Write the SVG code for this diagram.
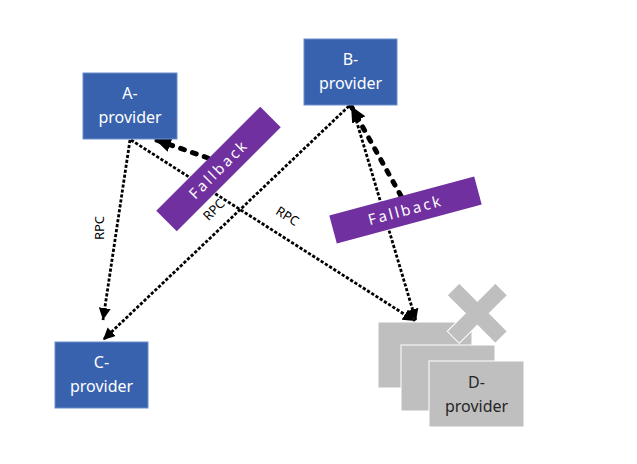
<svg xmlns="http://www.w3.org/2000/svg" width="637" height="464" viewBox="0 0 637 464">
<style>
.node{fill:#3862AE;stroke:#6A8DCB;stroke-width:1}
.ghost{fill:#BFBFBF;stroke:#FFFFFF;stroke-width:1}
.nt{font-family:"Noto Sans","DejaVu Sans",sans-serif;font-size:16px;fill:#FFFFFF;text-anchor:middle}
.dt{font-family:"Noto Sans","DejaVu Sans",sans-serif;font-size:16px;fill:#262626;text-anchor:middle}
.rpc{fill:none;stroke:#000;stroke-width:2.8;stroke-dasharray:3.2 1.8}
.fb{fill:none;stroke:#000;stroke-width:5;stroke-dasharray:4 8.5;stroke-linecap:round}
.lbl{font-family:"Noto Sans","DejaVu Sans",sans-serif;font-size:13px;fill:#000;text-anchor:middle}
.fbox{fill:#7030A0}
.ft{font-family:"Noto Sans","DejaVu Sans",sans-serif;font-size:15px;fill:#FFFFFF;text-anchor:middle;letter-spacing:2.5px}
</style>
<defs>
<marker id="ah" markerUnits="userSpaceOnUse" markerWidth="13" markerHeight="12" refX="12" refY="6" orient="auto">
<path d="M0,0 L12,6 L0,12 Z" fill="#000"/>
</marker>
<marker id="ahb" markerUnits="userSpaceOnUse" markerWidth="17" markerHeight="15" refX="16" refY="7.5" orient="auto">
<path d="M0,0 L16,7.5 L0,15 Z" fill="#000"/>
</marker>
</defs>
<g id="connectors">
<line class="rpc" x1="130" y1="140" x2="103" y2="320" marker-end="url(#ah)"/>
<line class="rpc" x1="349" y1="106" x2="103" y2="340" marker-end="url(#ah)"/>
<line class="rpc" x1="131" y1="140" x2="415" y2="321" marker-end="url(#ah)"/>
<line class="rpc" x1="352" y1="106" x2="416" y2="321" marker-end="url(#ah)"/>
<line class="fb" x1="208" y1="158" x2="155" y2="139.5" marker-end="url(#ahb)"/>
<line class="fb" x1="401" y1="196" x2="351" y2="106" marker-end="url(#ahb)"/>
<text class="lbl" transform="translate(104,228) rotate(-90)">RPC</text>
<text class="lbl" transform="translate(217,213) rotate(-45)">RPC</text>
<text class="lbl" transform="translate(285,220) rotate(32)">RPC</text>
</g>
<g id="fallback-a">
<rect class="fbox" x="-73.5" y="-14.5" width="147" height="29" transform="translate(218.5,169) rotate(-45)"/>
<text class="ft" transform="translate(218.5,169) rotate(-45)" y="5.5">Fallback</text>
</g>
<g id="fallback-b">
<rect class="fbox" x="-75" y="-14.5" width="150" height="29" transform="translate(405.5,210) rotate(-15)"/>
<text class="ft" transform="translate(405.5,210) rotate(-15)" y="5.5">Fallback</text>
</g>
<g id="A-provider">
<rect class="node" x="83" y="73" width="94" height="66"/>
<text class="nt" x="130" y="99">A-</text>
<text class="nt" x="130" y="123">provider</text>
</g>
<g id="B-provider">
<rect class="node" x="304" y="39" width="93" height="66"/>
<text class="nt" x="350.5" y="65">B-</text>
<text class="nt" x="350.5" y="89">provider</text>
</g>
<g id="C-provider">
<rect class="node" x="55" y="342" width="93" height="66"/>
<text class="nt" x="101.5" y="368">C-</text>
<text class="nt" x="101.5" y="392">provider</text>
</g>
<g id="D-provider">
<rect class="ghost" x="378" y="322" width="94" height="66"/>
<path class="ghost" transform="translate(477.3,313.3) rotate(45)" d="M8.5,-34 L8.5,-8.5 L34,-8.5 L34,8.5 L8.5,8.5 L8.5,34 L-8.5,34 L-8.5,8.5 L-34,8.5 L-34,-8.5 L-8.5,-8.5 L-8.5,-34 Z"/>
<rect class="ghost" x="401" y="345" width="94" height="66"/>
<rect class="ghost" x="429" y="361" width="95" height="66"/>
<text class="dt" x="476.5" y="388">D-</text>
<text class="dt" x="476.5" y="412">provider</text>
</g>
</svg>
